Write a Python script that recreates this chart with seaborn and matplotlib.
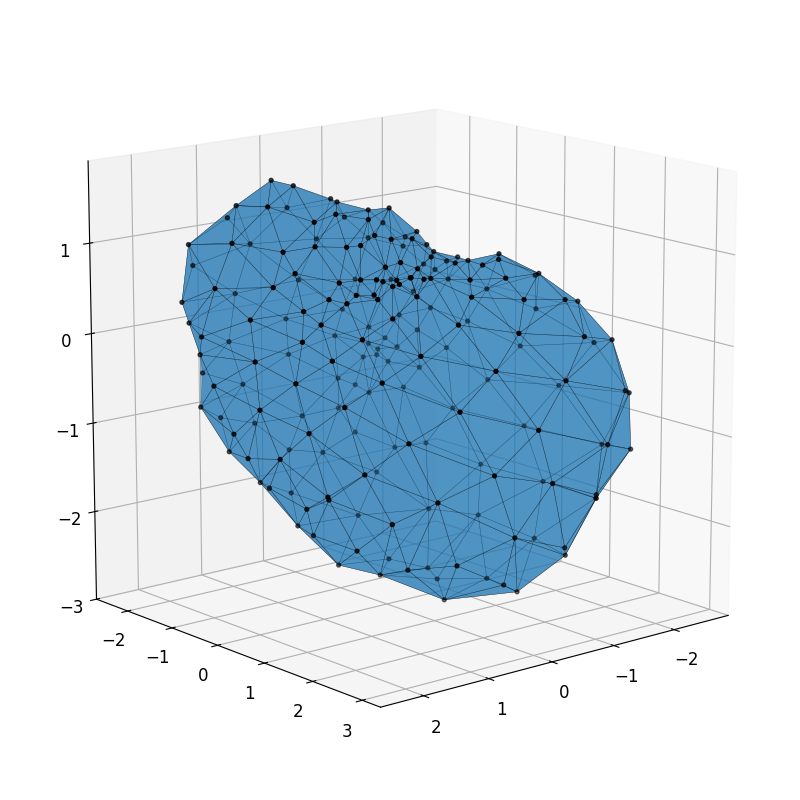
import matplotlib
matplotlib.use("Agg")
import matplotlib.pyplot as plt
import matplotlib.tri as mtri
from matplotlib.path import Path
from mpl_toolkits.mplot3d import proj3d
import numpy as np
import seaborn as sns
xs=[1.20,.99,.57,.27,.07,-.20,-.36,-.69,-.99,-1.38,-1.76,-2.10,-2.27,-2.29,-1.96,-1.66,-1.19,-.47,.16,.57,.97,1.33,1.63,1.90,1.90,2.00,2.07,2.00,1.54,1.85,1.19,.81,1.68,1.03,.95,2.27,2.15,1.94,1.54,1.35,1.29,1.06,2.19,2.53,2.38,1.92,1.66,1.48,1.42,1.28,1.27,1.37,1.04,2.06,1.80,1.60,1.59,1.94,2.27,2.53,1.53,2.18,2.33,2.32,1.89,2.45,2.14,2.32,2.32,1.76,.43,.17,-.10,-.60,-.24,.79,1.03,.77,.61,.21,-.28,1.08,.47,-.28,-1.16,.83,.09,-1.07,1.35,.55,-.48,-1.93,2.40,2.03,2.18,2.15,1.94,2.06,1.47,1.71,1.73,1.70,1.60,1.19,1.09,.55,1.56,1.12,1.00,-.02,-1.31,.46,-.48,-1.74,1.00,-.15,-1.35,.30,-.58,.47,.28,1.36,-.11,-.50,-.61,-.76,-.31,.58,-.93,1.58,-.31,.57,-.92,-1.23,-.94,-.26,-1.51,-1.27,-.91,.74,-1.45,-1.30,-1.59,-1.41,-.29,-1.41,-1.26,-1.53,1.63,-.96,.54,-1.17,-1.71,-.49,-1.09,-.95,-.76,-1.16,-1.40,-1.69,-1.93,-1.43,-1.63,-2.32,-2.08,-1.68,-2.61,-2.54,-2.04,-1.84,-2.44,-2.81,1.17,.42,-.41,-.94,-1.33,-1.10,-.03,-.57,-1.55,.34,-1.26,-.77,-.65,-2.18,-2.69,-1.89,-2.85,-2.32,-2.57,-2.13,-1.69,-2.12,-2.24,-1.14,-1.11,-1.56]
ys=[-.80,-.62,-.27,-.02,.15,.37,.51,.79,1.04,1.36,1.68,1.96,2.11,2.13,1.85,1.60,1.20,.60,.07,-.27,-.60,-.91,-1.16,-1.39,-1.39,-1.48,-1.53,-1.47,-1.08,.03,.54,.70,.76,1.12,1.35,-.14,.76,1.13,1.23,1.26,1.68,1.68,1.06,-.14,.87,1.59,1.67,1.75,1.80,1.89,1.93,1.93,1.85,1.57,1.77,1.86,1.92,1.77,1.34,.60,2.14,1.57,-.73,1.38,2.01,.58,1.74,-.49,1.24,2.23,1.09,1.14,1.28,1.52,1.65,1.67,1.85,1.77,1.70,1.97,2.06,2.03,2.33,2.42,2.15,2.53,2.78,2.64,2.46,2.91,3.00,2.43,.60,1.84,-.27,1.27,-.31,.54,2.38,1.81,1.08,1.06,.46,1.68,.82,1.16,-.39,-.06,2.78,3.04,2.83,2.78,2.76,2.11,2.35,2.43,1.96,1.84,1.68,-.54,-1.74,-1.53,-1.03,-.73,-1.19,-.60,-1.91,-2.14,-.87,-1.99,-2.31,-2.50,-1.89,-1.52,-2.20,-2.53,-1.71,-2.06,-2.33,-2.41,-1.94,-2.11,-1.86,-2.05,-2.52,-2.07,-2.17,-1.98,-1.73,-2.33,-2.39,-2.23,-1.88,.20,-.64,.02,.49,-.49,-.52,.91,-.38,-1.30,-1.19,.16,-.97,-1.54,1.00,-.43,-1.37,-1.70,-.99,.05,-2.00,-2.30,-2.39,-2.30,-2.14,-2.14,-2.16,-2.15,-1.86,-1.61,-1.88,-1.64,-.81,-1.41,-.52,-1.62,.90,-.98,.03,1.64,-1.30,-.78,.26,-.61,-.37,.11]
zs=[1.76,1.70,1.52,1.43,1.45,1.19,.97,.87,.94,.72,.41,-.02,-.61,-1.24,-1.79,-2.43,-2.84,-2.92,-2.63,-2.51,-2.06,-1.57,-1.22,-.72,-.14,.21,.44,1.07,1.49,1.65,1.56,1.48,1.56,1.39,1.37,1.29,1.30,1.38,1.34,1.34,1.16,1.18,1.12,.84,.97,1.06,1.07,1.06,1.04,1.05,1.01,1.00,1.04,.90,.94,.93,.89,.87,.77,.61,.71,.65,.21,.46,.52,.15,.29,-.29,0.0,.08,1.28,1.06,.98,.99,.99,1.08,1.04,.98,.96,.93,.90,.87,.83,.72,.57,.61,.46,.25,.34,.14,-.09,-.49,-.37,-.20,-.80,-.55,-1.11,-.96,-.58,-.97,-1.33,-1.37,-1.59,-1.61,-2.07,-2.31,-1.51,-2.05,-.25,-.55,-.93,-1.01,-1.24,-1.67,-1.29,-1.84,-2.23,-2.18,-2.57,1.51,1.24,1.28,1.18,1.11,.87,.94,.80,.82,.78,.72,.28,.21,.27,.28,-.12,-.19,-.19,-.35,-.44,-.30,-.48,-.55,-.59,-.62,-.60,-.69,-.71,-.77,-.43,-.94,-.81,-1.03,-1.08,.99,.59,.73,.86,.54,.40,.60,.24,.15,-.05,.04,-.23,-.36,-.26,-.50,-.59,-.84,-.96,-.92,-1.04,-1.26,-1.31,-1.28,-1.13,-1.56,-1.61,-1.72,-1.76,-1.96,-2.01,-2.40,-2.74,-1.32,-1.46,-1.72,-1.47,-1.93,-2.00,-1.85,-2.41,-2.46,-2.57,-2.89,-2.97,-2.95]
x_ticks=[-2,-1,0,1,2]
y_ticks=[-2,-1,0,1,2,3]
z_ticks=[-3,-2,-1,0,1]
n_outline=29  # the first points trace the outline of the solid
plt.rcParams['font.size'] = 12
fig = plt.figure(figsize=(8, 8), dpi=100)
ax = fig.add_axes([.0225,.0225,.955,.955], projection='3d')
ax.set_xlim(-2.92, 2.65)
ax.set_ylim(-2.72, 3.36)
ax.set_zlim(-3, 1.9)
ax.set_box_aspect((1,1,1))
ax.view_init(elev=14, azim=50)
ax.set_xticks(x_ticks);ax.set_yticks(y_ticks);ax.set_zticks(z_ticks)
X,Y,Z=np.array(xs),np.array(ys),np.array(zs)
a=np.radians(50);cx,cy=-0.135,0.32
depth=(X-cx)*np.cos(a)+(Y-cy)*np.sin(a)
px,py,_=proj3d.proj_transform(X,Y,Z,ax.get_proj())
plane=np.column_stack([px,py])
outline=Path(plane[:n_outline])
tris=[]
for sel in (np.where(depth>-0.05)[0],np.where(depth<0.05)[0]):
    t=mtri.Triangulation(px[sel],py[sel])
    for tr in sel[t.triangles]:
        if (tr<n_outline).all(): continue
        if not outline.contains_point(plane[tr].mean(axis=0)): continue
        tris.append(tr)
tris=np.array(tris)
blue=sns.color_palette('tab10')[0]
ax.plot_trisurf(X,Y,Z,triangles=tris,color=blue,alpha=.52,linewidth=.3,edgecolor='k',shade=False)
ax.scatter(X,Y,Z,c='k',s=8,depthshade=True)
fig.savefig('out.png',dpi=100)
